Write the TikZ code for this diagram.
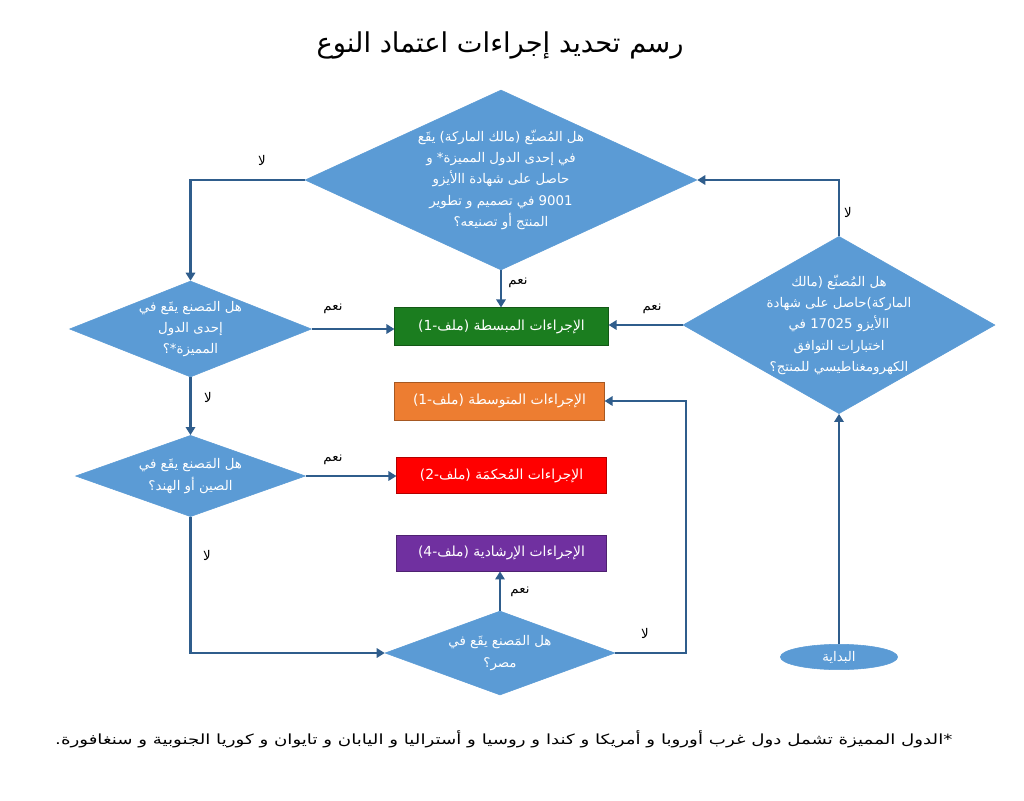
\documentclass[tikz,border=0pt]{standalone}
\usepackage{fontspec}
\setmainfont{Liberation Sans}
\newfontfamily\arabicfont[Script=Arabic]{DejaVu Sans}
\newfontfamily\arabicwide[Script=Arabic,FakeStretch=1.3]{DejaVu Sans}
\TeXXeTstate=1
\usetikzlibrary{shapes.geometric,arrows.meta}
\definecolor{diafill}{HTML}{5B9BD5}
\definecolor{linec}{HTML}{2F5D8C}
\definecolor{gbox}{HTML}{1B7D1F}
\definecolor{obox}{HTML}{ED7D31}
\definecolor{rbox}{HTML}{FF0000}
\definecolor{pbox}{HTML}{7030A0}
\newcommand\rl[1]{\beginR #1\endR}
\tikzset{
  dia/.style={diamond, fill=diafill, draw=diafill, inner sep=0pt},
  dtext/.style={text=white, font=\arabicfont\fontsize{10}{16}\selectfont, align=center},
  procbox/.style={rectangle, draw=#1!70!black, line width=0.6pt, fill=#1, minimum width=157pt, minimum height=27pt, inner sep=0pt, text=white, font=\arabicfont\fontsize{10.4}{12}\selectfont},
  conn/.style={draw=linec, line width=1.8pt, -{Triangle[length=6pt,width=7pt]}},
  lab/.style={font=\arabicfont\fontsize{10}{12}\selectfont, text=black, inner sep=1pt},
}
\begin{document}
\begin{tikzpicture}[x=0.75pt,y=-0.75pt]
\fill[white] (0,0) rectangle (1024,800);
\useasboundingbox (0,0) rectangle (1024,800);

% title
\node[font=\arabicfont\fontsize{20.5}{24}\selectfont, text=black] (title) at (500,45) {\rl{رسم تحديد إجراءات اعتماد النوع}};

% diamonds
\node[dia, minimum width=294pt, minimum height=135pt] (d1) at (501,180) {};
\node[dtext] (d1t) at (d1.center) {\rl{هل المُصنّع (مالك الماركة) يقَع}\\\rl{في إحدى الدول المميزة* و}\\\rl{حاصل على شهادة االأيزو}\\\rl{9001 في تصميم و تطوير}\\\rl{المنتج أو تصنيعه؟}};

\node[dia, minimum width=234pt, minimum height=133pt] (d2) at (839,325) {};
\node[dtext] (d2t) at (d2.center) {\rl{هل المُصنّع (مالك}\\\rl{الماركة)حاصل  على  شهادة}\\\rl{االأيزو 17025 في}\\\rl{اختبارات التوافق}\\\rl{الكهرومغناطيسي للمنتج؟}};

\node[dia, minimum width=181.5pt, minimum height=72pt] (d3) at (190.5,329) {};
\node[dtext] (d3t) at (d3.center) {\rl{هل المَصنع يقَع في}\\\rl{إحدى الدول}\\\rl{المميزة*؟}};

\node[dia, minimum width=172.5pt, minimum height=61pt] (d4) at (190.5,476) {};
\node[dtext] (d4t) at (d4.center) {\rl{هل المَصنع يقَع في}\\\rl{الصين أو الهند؟}};

\node[dia, minimum width=172.5pt, minimum height=63pt] (d5) at (500,653) {};
\node[dtext] (d5t) at (d5.center) {\rl{هل المَصنع يقَع في}\\\rl{مصر؟}};

% start
\node[ellipse, fill=diafill, draw=diafill, minimum width=88pt, minimum height=19pt, inner sep=0pt, text=white, font=\arabicfont\fontsize{10}{12}\selectfont] (start) at (839,657) {\rl{البداية}};

% boxes
\node[procbox=gbox, minimum width=160pt, minimum height=28pt] (g) at (501.5,326.5) {\rl{الإجراءات المبسطة (ملف-1)}};
\node[procbox=obox, minimum width=157pt, minimum height=28.5pt] (o) at (499.5,401) {\rl{الإجراءات المتوسطة (ملف-1)}};
\node[procbox=rbox, minimum width=157pt, minimum height=26.5pt] (r) at (501.5,475.5) {\rl{الإجراءات المُحكمَة (ملف-2)}};
\node[procbox=pbox, minimum width=157pt, minimum height=27pt] (p) at (501.5,553) {\rl{الإجراءات الإرشادية (ملف-4)}};

% connectors
\coordinate (c1) at (686,401);
\draw[conn] (d1.west) -| (d3.north);
\draw[conn] (d1.south) -- (d1.south |- g.north);
\draw[conn] (d2.north) |- (d1.east);
\draw[conn] (d2.west) -- (d2.west -| g.east);
\draw[conn] (d3.east) -- (d3.east -| g.west);
\draw[conn] (d3.south) -- (d4.north);
\draw[conn] (d4.east) -- (d4.east -| r.west);
\draw[conn] (d4.south) |- (d5.west);
\draw[conn] (d5.north) -- (d5.north |- p.south);
\draw[conn] (d5.east) -| (c1) -- (o.east);
\draw[conn] (start.north) -- (d2.south);

% labels
\node[lab] (l1) at (262,160) {\rl{لا}};
\node[lab] (l2) at (518,283) {\rl{نعم}};
\node[lab] (l3) at (848,212) {\rl{لا}};
\node[lab] (l4) at (652,309) {\rl{نعم}};
\node[lab] (l5) at (333,309) {\rl{نعم}};
\node[lab] (l6) at (208,397) {\rl{لا}};
\node[lab] (l7) at (333,460) {\rl{نعم}};
\node[lab] (l8) at (207,555) {\rl{لا}};
\node[lab] (l9) at (520,592) {\rl{نعم}};
\node[lab] (l10) at (645,633) {\rl{لا}};

% footnote
\node[anchor=east, font=\arabicwide\fontsize{10.5}{12}\selectfont, text=black] (fn) at (957,739) {\rl{*الدول المميزة  تشمل دول غرب أوروبا و أمريكا و كندا و روسيا و أستراليا و اليابان و تايوان و كوريا الجنوبية و سنغافورة.}};
\end{tikzpicture}
\end{document}
